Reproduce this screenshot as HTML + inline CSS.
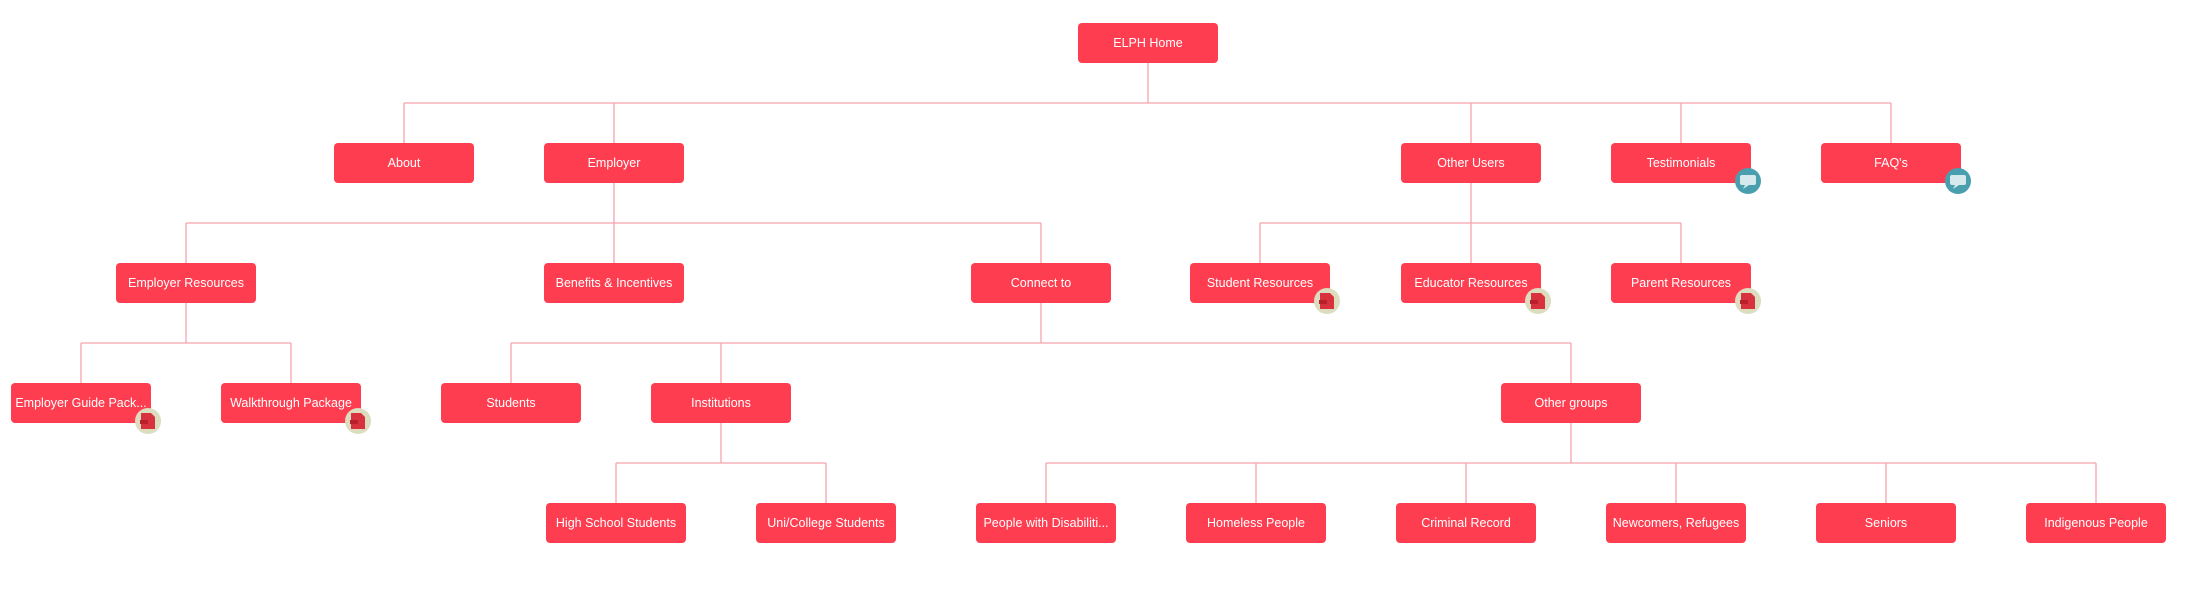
<!DOCTYPE html>
<html><head><meta charset="utf-8"><style>
html,body{margin:0;padding:0;background:#fff;width:2198px;height:613px;overflow:hidden}
svg text{font-family:"Liberation Sans",sans-serif;font-size:12.5px;fill:#fff;text-anchor:middle;dominant-baseline:central}
</style></head><body>
<svg width="2198" height="613" viewBox="0 0 2198 613" xmlns="http://www.w3.org/2000/svg">
<g stroke="#f6a3ad" stroke-width="1.3" fill="none">
<path d="M1148 63V103M404 103H1891M404 103V143M614 103V143M1471 103V143M1681 103V143M1891 103V143"/>
<path d="M614 183V223M186 223H1041M186 223V263M614 223V263M1041 223V263"/>
<path d="M1471 183V223M1260 223H1681M1260 223V263M1471 223V263M1681 223V263"/>
<path d="M186 303V343M81 343H291M81 343V383M291 343V383"/>
<path d="M1041 303V343M511 343H1571M511 343V383M721 343V383M1571 343V383"/>
<path d="M721 423V463M616 463H826M616 463V503M826 463V503"/>
<path d="M1571 423V463M1046 463H2096M1046 463V503M1256 463V503M1466 463V503M1676 463V503M1886 463V503M2096 463V503"/>
</g>
<g fill="#ff3d50">
<rect x="1078" y="23" width="140" height="40" rx="4"/>
<rect x="334" y="143" width="140" height="40" rx="4"/>
<rect x="544" y="143" width="140" height="40" rx="4"/>
<rect x="1401" y="143" width="140" height="40" rx="4"/>
<rect x="1611" y="143" width="140" height="40" rx="4"/>
<rect x="1821" y="143" width="140" height="40" rx="4"/>
<rect x="116" y="263" width="140" height="40" rx="4"/>
<rect x="544" y="263" width="140" height="40" rx="4"/>
<rect x="971" y="263" width="140" height="40" rx="4"/>
<rect x="1190" y="263" width="140" height="40" rx="4"/>
<rect x="1401" y="263" width="140" height="40" rx="4"/>
<rect x="1611" y="263" width="140" height="40" rx="4"/>
<rect x="11" y="383" width="140" height="40" rx="4"/>
<rect x="221" y="383" width="140" height="40" rx="4"/>
<rect x="441" y="383" width="140" height="40" rx="4"/>
<rect x="651" y="383" width="140" height="40" rx="4"/>
<rect x="1501" y="383" width="140" height="40" rx="4"/>
<rect x="546" y="503" width="140" height="40" rx="4"/>
<rect x="756" y="503" width="140" height="40" rx="4"/>
<rect x="976" y="503" width="140" height="40" rx="4"/>
<rect x="1186" y="503" width="140" height="40" rx="4"/>
<rect x="1396" y="503" width="140" height="40" rx="4"/>
<rect x="1606" y="503" width="140" height="40" rx="4"/>
<rect x="1816" y="503" width="140" height="40" rx="4"/>
<rect x="2026" y="503" width="140" height="40" rx="4"/>
</g>
<g>
<text x="1148" y="43">ELPH Home</text>
<text x="404" y="163">About</text>
<text x="614" y="163">Employer</text>
<text x="1471" y="163">Other Users</text>
<text x="1681" y="163">Testimonials</text>
<text x="1891" y="163">FAQ's</text>
<text x="186" y="283">Employer Resources</text>
<text x="614" y="283">Benefits &amp; Incentives</text>
<text x="1041" y="283">Connect to</text>
<text x="1260" y="283">Student Resources</text>
<text x="1471" y="283">Educator Resources</text>
<text x="1681" y="283">Parent Resources</text>
<text x="81" y="403">Employer Guide Pack...</text>
<text x="291" y="403">Walkthrough Package</text>
<text x="511" y="403">Students</text>
<text x="721" y="403">Institutions</text>
<text x="1571" y="403">Other groups</text>
<text x="616" y="523">High School Students</text>
<text x="826" y="523">Uni/College Students</text>
<text x="1046" y="523">People with Disabiliti...</text>
<text x="1256" y="523">Homeless People</text>
<text x="1466" y="523">Criminal Record</text>
<text x="1676" y="523">Newcomers, Refugees</text>
<text x="1886" y="523">Seniors</text>
<text x="2096" y="523">Indigenous People</text>
</g>
<defs>
<g id="doc"><circle r="13" fill="#dcdcbf"/><path d="M-7 -8H3L7 -4V8H-7Z" fill="#d9323f"/><rect x="-8" y="-1" width="8" height="4" fill="#b8202c"/></g>
<g id="chat"><circle r="13" fill="#4a9fae"/><rect x="-8" y="-6" width="16" height="10" rx="2" fill="#d6e9ec"/><path d="M-3 4L-5 8L1 4Z" fill="#d6e9ec"/></g>
</defs>
<use href="#doc" x="148" y="421"/>
<use href="#doc" x="358" y="421"/>
<use href="#doc" x="1327" y="301"/>
<use href="#doc" x="1538" y="301"/>
<use href="#doc" x="1748" y="301"/>
<use href="#chat" x="1748" y="181"/>
<use href="#chat" x="1958" y="181"/>
</svg>
</body></html>
